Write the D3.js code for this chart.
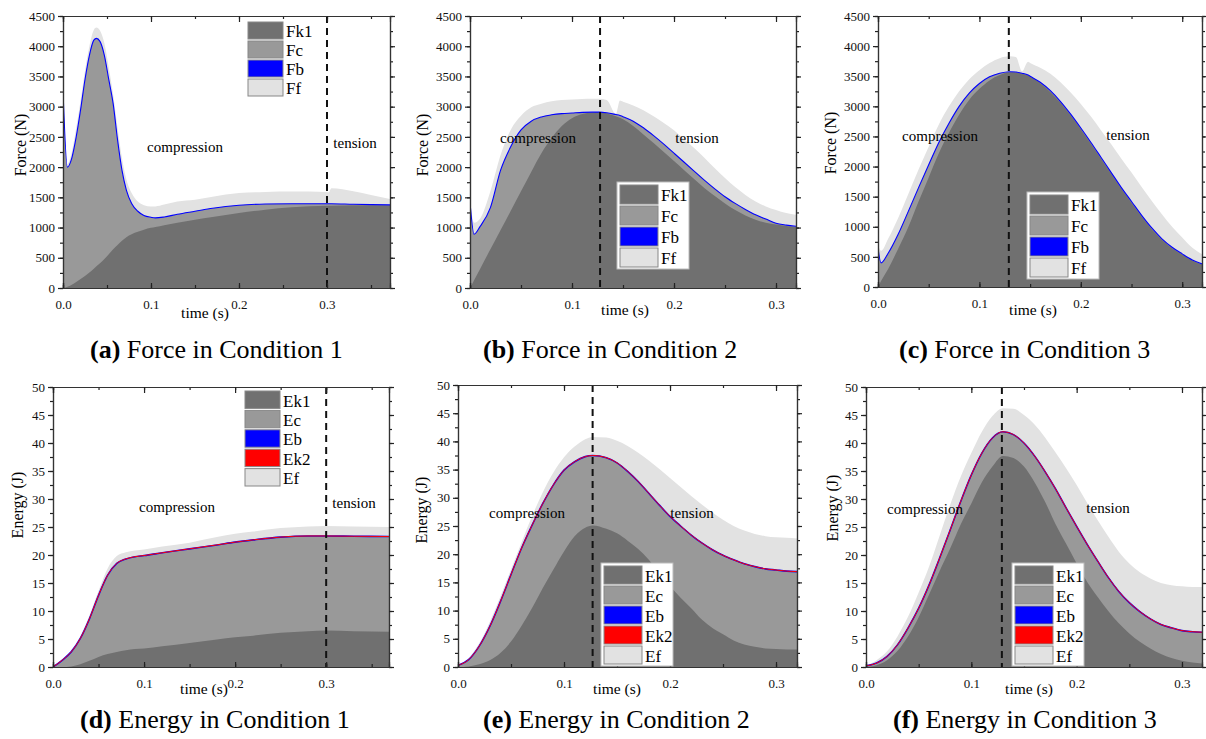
<!DOCTYPE html>
<html>
<head>
<meta charset="utf-8">
<script src="https://cdn.jsdelivr.net/npm/d3@7"></script>
<style>
  body { margin: 0; background: #fff; }
  svg { font-family: "Liberation Serif", "DejaVu Serif", serif; }
</style>
</head>
<body>
<div id="chart"></div>
<script>
// ---- data ----
// (a) force, condition 1
const tA   = [0, 0.005, 0.01, 0.015, 0.02, 0.025, 0.03, 0.035, 0.038, 0.042, 0.047, 0.052, 0.057, 0.062, 0.067, 0.072, 0.078, 0.085, 0.092, 0.1, 0.105, 0.115, 0.13, 0.15, 0.17, 0.2, 0.23, 0.26, 0.3, 0.302, 0.305, 0.33, 0.35, 0.372]
const fk1A = [0, 20, 55, 100, 150, 200, 255, 320, 360, 410, 480, 560, 640, 710, 780, 840, 890, 930, 965, 995, 1010, 1040, 1080, 1130, 1175, 1240, 1295, 1335, 1360, 1361, 1362, 1368, 1370, 1370]
const fbA  = [3270, 2000, 2150, 2500, 2950, 3450, 3850, 4100, 4130, 4080, 3850, 3450, 3050, 2450, 1950, 1620, 1400, 1270, 1200, 1170, 1160, 1175, 1220, 1270, 1320, 1370, 1390, 1395, 1395, 1395, 1395, 1385, 1380, 1375]
const ffA  = [3300, 2050, 2250, 2650, 3100, 3600, 4000, 4270, 4310, 4260, 4050, 3650, 3200, 2650, 2150, 1800, 1570, 1430, 1370, 1350, 1350, 1380, 1430, 1460, 1510, 1570, 1590, 1595, 1590, 1580, 1650, 1600, 1540, 1470]

// (b) force, condition 2
const tB   = [0, 0.004, 0.01, 0.02, 0.03, 0.04, 0.05, 0.06, 0.07, 0.08, 0.09, 0.1, 0.11, 0.12, 0.127, 0.134, 0.143, 0.147, 0.15, 0.16, 0.17, 0.18, 0.19, 0.2, 0.21, 0.22, 0.23, 0.24, 0.25, 0.26, 0.27, 0.28, 0.29, 0.3, 0.31, 0.32]
const fk1B = [0, 130, 320, 640, 960, 1280, 1600, 1920, 2230, 2480, 2680, 2810, 2880, 2905, 2910, 2890, 2840, 2815, 2790, 2680, 2540, 2400, 2250, 2100, 1950, 1800, 1650, 1520, 1400, 1290, 1200, 1130, 1080, 1050, 1025, 1010]
const fbB  = [1420, 890, 1020, 1330, 1950, 2340, 2615, 2760, 2830, 2865, 2885, 2895, 2905, 2910, 2910, 2900, 2870, 2855, 2835, 2760, 2650, 2520, 2380, 2230, 2080, 1930, 1780, 1640, 1510, 1400, 1300, 1210, 1140, 1070, 1040, 1020]
const ffB  = [1450, 1080, 1150, 1600, 2200, 2620, 2850, 2990, 3050, 3090, 3110, 3120, 3125, 3130, 3130, 3110, 2880, 3100, 3080, 3020, 2940, 2840, 2730, 2610, 2460, 2310, 2150, 1980, 1820, 1670, 1540, 1430, 1350, 1290, 1240, 1210]

// (c) force, condition 3
const tC   = [0, 0.003, 0.01, 0.02, 0.03, 0.04, 0.05, 0.06, 0.07, 0.08, 0.09, 0.1, 0.11, 0.12, 0.13, 0.136, 0.142, 0.148, 0.15, 0.16, 0.17, 0.18, 0.19, 0.2, 0.21, 0.22, 0.23, 0.24, 0.25, 0.26, 0.27, 0.28, 0.29, 0.3, 0.31, 0.32]
const fk1C = [0, 100, 300, 640, 1000, 1420, 1820, 2220, 2560, 2860, 3110, 3290, 3430, 3520, 3565, 3560, 3540, 3510, 3490, 3385, 3240, 3060, 2850, 2620, 2380, 2130, 1880, 1630, 1400, 1170, 960, 785, 645, 540, 440, 370]
const fbC  = [650, 400, 560, 880, 1260, 1650, 2030, 2400, 2720, 3000, 3220, 3380, 3490, 3550, 3575, 3570, 3550, 3520, 3500, 3400, 3260, 3080, 2870, 2640, 2400, 2150, 1900, 1650, 1420, 1190, 980, 800, 660, 550, 450, 380]
const ffC  = [700, 600, 800, 1150, 1550, 1950, 2330, 2700, 3000, 3250, 3450, 3600, 3720, 3800, 3830, 3820, 3580, 3740, 3720, 3640, 3540, 3400, 3230, 3040, 2830, 2600, 2370, 2130, 1900, 1660, 1430, 1210, 1000, 820, 650, 540]

// (d) energy, condition 1
const tD   = [0, 0.01, 0.02, 0.03, 0.04, 0.05, 0.06, 0.07, 0.08, 0.09, 0.1, 0.12, 0.15, 0.18, 0.2, 0.22, 0.25, 0.28, 0.3, 0.33, 0.369]
const ek1D = [0, 0, 0.1, 0.5, 1.1, 1.8, 2.3, 2.7, 3.0, 3.2, 3.3, 3.7, 4.3, 4.9, 5.3, 5.6, 6.1, 6.4, 6.5, 6.4, 6.3]
const ek2D = [0, 1.2, 2.7, 5.1, 8.6, 12.8, 16.4, 18.5, 19.3, 19.7, 19.9, 20.4, 21.1, 21.8, 22.3, 22.7, 23.2, 23.4, 23.4, 23.35, 23.3]
const efD  = [0.2, 1.4, 3.0, 5.5, 9.2, 13.6, 17.6, 19.8, 20.5, 20.8, 21.0, 21.5, 22.2, 23.2, 23.8, 24.2, 24.8, 25.1, 25.2, 25.1, 25.0]

// (e) energy, condition 2
const tE   = [0, 0.01, 0.02, 0.03, 0.04, 0.05, 0.06, 0.07, 0.08, 0.09, 0.1, 0.11, 0.12, 0.127, 0.14, 0.15, 0.16, 0.17, 0.18, 0.19, 0.2, 0.21, 0.22, 0.23, 0.24, 0.25, 0.26, 0.27, 0.28, 0.29, 0.3, 0.31, 0.32]
const ek1E = [0, 0.1, 0.5, 1.2, 2.5, 4.5, 7.3, 10.5, 14, 17.3, 20.5, 23.2, 24.7, 25.1, 24.5, 23.7, 22.4, 20.9, 19.0, 16.6, 14.3, 12.3, 10.4, 8.4, 6.9, 5.8, 4.7, 4.0, 3.6, 3.3, 3.2, 3.1, 3.1]
const ek2E = [0.3, 1.3, 3.7, 7.2, 11.6, 16.4, 21.1, 25.2, 29.0, 32.3, 34.9, 36.4, 37.3, 37.5, 37.1, 36.2, 34.7, 32.9, 30.8, 28.7, 26.7, 25.0, 23.4, 22.0, 20.8, 19.8, 19.0, 18.3, 17.8, 17.4, 17.2, 17.0, 16.9]
const efE  = [0.3, 1.6, 4.2, 8.0, 12.5, 17.3, 22.1, 26.8, 31.0, 34.5, 37.2, 39.1, 40.4, 40.8, 40.7, 40.1, 39.2, 38.0, 36.6, 35.1, 33.5, 31.9, 30.3, 28.8, 27.4, 26.1, 25.0, 24.2, 23.6, 23.2, 23.0, 22.9, 22.8]

// (f) energy, condition 3
const tF   = [0, 0.01, 0.02, 0.03, 0.04, 0.05, 0.06, 0.07, 0.08, 0.09, 0.1, 0.11, 0.12, 0.13, 0.14, 0.15, 0.16, 0.17, 0.18, 0.19, 0.2, 0.21, 0.22, 0.23, 0.24, 0.25, 0.26, 0.27, 0.28, 0.29, 0.3, 0.31, 0.32]
const ek1F = [0, 0.3, 1.2, 2.9, 5.5, 8.9, 13, 17.2, 21.2, 25.5, 29.2, 33.0, 35.8, 37.7, 37.3, 35.8, 33.0, 29.5, 25.5, 22.0, 18.5, 15.2, 12.5, 10.0, 7.8, 6.0, 4.5, 3.3, 2.3, 1.6, 1.1, 0.8, 0.6]
const ek2F = [0.2, 0.7, 1.9, 4.0, 7.0, 10.5, 14.7, 19.5, 24.5, 29.6, 34.3, 38.2, 40.9, 42.0, 41.5, 40.0, 37.7, 34.9, 31.8, 28.4, 25.1, 21.9, 18.9, 16.0, 13.5, 11.5, 9.9, 8.6, 7.6, 7.0, 6.5, 6.3, 6.2]
const efF  = [0.2, 1.2, 2.8, 5.5, 9.0, 13.3, 18.0, 23.5, 29.0, 34.0, 38.2, 42.0, 44.8, 46.2, 46.1, 45.0, 43.3, 41.0, 38.3, 35.5, 32.5, 29.3, 26.2, 23.3, 20.6, 18.5, 16.9, 15.8, 15.0, 14.6, 14.4, 14.3, 14.3]

const forceLegend  = ['Fk1', 'Fc', 'Fb', 'Ff']
const energyLegend = ['Ek1', 'Ec', 'Eb', 'Ek2', 'Ef']
const xTicks = [0, 0.1, 0.2, 0.3]
const titles = [
  ['(a)', ' Force in Condition 1'], ['(b)', ' Force in Condition 2'], ['(c)', ' Force in Condition 3'],
  ['(d)', ' Energy in Condition 1'], ['(e)', ' Energy in Condition 2'], ['(f)', ' Energy in Condition 3']
]

const col = { dark: '#707070', mid: '#999999', light: '#e2e2e2', blue: '#0000ff', red: '#ff0000' }
const swatch = { Fk1: col.dark, Fc: col.mid, Fb: col.blue, Ff: col.light,
                 Ek1: col.dark, Ec: col.mid, Eb: col.blue, Ek2: col.red, Ef: col.light }

const svg = d3.select('#chart').append('svg').attr('width', 1206).attr('height', 739)

// layout of each panel (pixels) -- data refs only
const panels = [
  { t: tA, k1: fk1A, top: fbA, env: ffA, energy: false, box: [63, 390, 16, 288], xMax: 0.3716, cut: 0.3,
    legend: { x: 248, y: 22, framed: false, row: 19 }, comp: [185, 152], tens: [355, 148],
    ylab: [20, 145], xlab: [205, 318], title: [90, 358] },
  { t: tB, k1: fk1B, top: fbB, env: ffB, energy: false, box: [470, 796, 16, 288], xMax: 0.3196, cut: 0.1275,
    legend: { x: 617, y: 182, framed: true, row: 21 }, comp: [538, 143], tens: [697, 143],
    ylab: [422, 145], xlab: [625, 315], title: [483, 358] },
  { t: tC, k1: fk1C, top: fbC, env: ffC, energy: false, box: [878, 1202, 16, 287], xMax: 0.3195, cut: 0.129,
    legend: { x: 1027, y: 192, framed: true, row: 21 }, comp: [940, 141], tens: [1128, 140],
    ylab: [830, 143], xlab: [1033, 315], title: [899, 358] },
  { t: tD, k1: ek1D, top: ek2D, env: efD, energy: true, box: [53, 389, 387, 667], xMax: 0.369, cut: 0.3,
    legend: { x: 245, y: 391, framed: false, row: 19.4 }, comp: [177, 512], tens: [354, 508],
    ylab: [17, 505], xlab: [204, 694], title: [80, 728] },
  { t: tE, k1: ek1E, top: ek2E, env: efE, energy: true, box: [458, 797, 385, 667], xMax: 0.3198, cut: 0.127,
    legend: { x: 601, y: 563, framed: true, row: 20 }, comp: [527, 518], tens: [692, 518],
    ylab: [421, 510], xlab: [617, 694], title: [483, 728] },
  { t: tF, k1: ek1F, top: ek2F, env: efF, energy: true, box: [866, 1202, 387, 667], xMax: 0.319, cut: 0.129,
    legend: { x: 1012, y: 563, framed: true, row: 20 }, comp: [925, 514], tens: [1108, 513],
    ylab: [832, 508], xlab: [1029, 694], title: [893, 728] }
]

const drawPanel = (p, i) => {
  const [x0, x1, y0, y1] = p.box
  const yMax = p.energy ? 50 : 4500
  const yStep = p.energy ? 5 : 500
  const x = d3.scaleLinear().domain([0, p.xMax]).range([x0, x1])
  const y = d3.scaleLinear().domain([0, yMax]).range([y1, y0])
  const g = svg.append('g')

  const clipId = `clip${i}`
  g.append('clipPath').attr('id', clipId)
    .append('rect').attr('x', x0).attr('y', y0).attr('width', x1 - x0).attr('height', y1 - y0)

  const idx = d3.range(p.t.length)
  const area = arr => d3.area().curve(d3.curveMonotoneX)
    .x(j => x(p.t[j])).y0(y(0)).y1(j => y(arr[j]))
  const line = arr => d3.line().curve(d3.curveMonotoneX)
    .x(j => x(p.t[j])).y(j => y(arr[j]))

  const plot = g.append('g').attr('clip-path', `url(#${clipId})`)
  plot.append('path').datum(idx).attr('d', area(p.env)).attr('fill', col.light)
  plot.append('path').datum(idx).attr('d', area(p.top)).attr('fill', col.mid)
  plot.append('path').datum(idx).attr('d', area(p.k1)).attr('fill', col.dark)
  plot.append('path').datum(idx).attr('d', line(p.top))
    .attr('fill', 'none').attr('stroke', col.blue).attr('stroke-width', p.energy ? 1.6 : 1.1)
  if (p.energy) {
    plot.append('path').datum(idx).attr('d', line(p.top))
      .attr('fill', 'none').attr('stroke', col.red).attr('stroke-width', 1)
  }

  // dashed separator between compression and tension
  g.append('line')
    .attr('x1', x(p.cut)).attr('x2', x(p.cut)).attr('y1', y0).attr('y2', y1)
    .attr('stroke', '#111').attr('stroke-width', 2).attr('stroke-dasharray', '7,5')

  // axes
  const yMinor = d3.range(0, yMax + 0.001, yStep / 2)
  const xMinor = d3.range(0, p.xMax, 0.05)
  const fmtY = d3.format('d')
  g.append('g').attr('transform', `translate(${x0},0)`)
    .call(d3.axisLeft(y).tickValues(yMinor).tickSize(3).tickFormat(''))
  g.append('g').attr('transform', `translate(${x0},0)`)
    .call(d3.axisLeft(y).ticks(yMax / yStep).tickSize(5).tickPadding(3).tickFormat(fmtY))
  g.append('g').attr('transform', `translate(${x1},0)`)
    .call(d3.axisLeft(y).tickValues(yMinor).tickSize(-3).tickFormat(''))
  g.append('g').attr('transform', `translate(${x1},0)`)
    .call(d3.axisLeft(y).ticks(yMax / yStep).tickSize(-5).tickFormat(''))
  g.append('g').attr('transform', `translate(0,${y1})`)
    .call(d3.axisBottom(x).tickValues(xMinor).tickSize(-3).tickFormat(''))
  g.append('g').attr('transform', `translate(0,${y1})`)
    .call(d3.axisBottom(x).tickValues(xTicks).tickSize(-5).tickPadding(12).tickFormat(d3.format('.1f')))
  g.append('g').attr('transform', `translate(0,${y0})`)
    .call(d3.axisTop(x).tickValues(xMinor).tickSize(-3).tickFormat(''))
  g.append('g').attr('transform', `translate(0,${y0})`)
    .call(d3.axisTop(x).tickValues(xTicks).tickSize(-6).tickFormat(''))

  g.selectAll('.domain').attr('stroke', '#333').attr('stroke-width', 1.2)
  g.selectAll('.tick line').attr('stroke', '#222').attr('stroke-width', 1.2)
  g.selectAll('.tick text').attr('font-size', 13).attr('fill', '#111')
    .attr('font-family', '"Liberation Serif", serif')

  // axis titles
  g.append('text')
    .attr('transform', `translate(${p.ylab[0]},${p.ylab[1]}) rotate(-90)`)
    .attr('text-anchor', 'middle').attr('dy', '0.35em')
    .attr('font-size', 16).text(p.energy ? 'Energy (J)' : 'Force (N)')
  g.append('text')
    .attr('x', p.xlab[0]).attr('y', p.xlab[1])
    .attr('text-anchor', 'middle').attr('font-size', 15.5).text('time (s)')

  // region notes
  g.append('text').attr('x', p.comp[0]).attr('y', p.comp[1])
    .attr('text-anchor', 'middle').attr('font-size', 15).text('compression')
  g.append('text').attr('x', p.tens[0]).attr('y', p.tens[1])
    .attr('text-anchor', 'middle').attr('font-size', 15).text('tension')

  // legend
  const names = p.energy ? energyLegend : forceLegend
  const L = p.legend
  const lg = g.append('g').attr('transform', `translate(${L.x},${L.y})`)
  if (L.framed) {
    lg.append('rect').attr('width', 72).attr('height', names.length * L.row + 3)
      .attr('fill', '#fff').attr('stroke', '#bbb')
  }
  const off = L.framed ? 3 : 0
  names.forEach((n, k) => {
    lg.append('rect')
      .attr('x', off).attr('y', off + k * L.row)
      .attr('width', L.framed ? 38 : 35).attr('height', L.row - 2)
      .attr('fill', swatch[n]).attr('stroke', '#888').attr('stroke-width', 1)
    lg.append('text')
      .attr('x', off + (L.framed ? 41 : 38)).attr('y', off + k * L.row + L.row / 2)
      .attr('dy', '0.35em').attr('font-size', 17).text(n)
  })

  // caption
  const cap = svg.append('text').attr('x', p.title[0]).attr('y', p.title[1]).attr('font-size', 26)
  cap.append('tspan').attr('font-weight', 'bold').text(titles[i][0])
  cap.append('tspan').text(titles[i][1])
}

panels.forEach(drawPanel)
</script>
</body>
</html>
